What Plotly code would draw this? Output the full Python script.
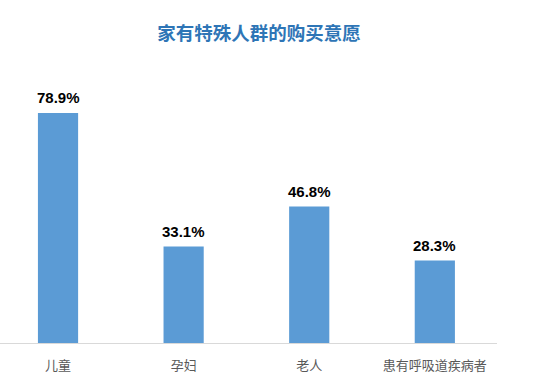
import plotly.graph_objects as go

categories = ["儿童", "孕妇", "老人", "患有呼吸道疾病者"]
values = [78.9, 33.1, 46.8, 28.3]
labels = ["78.9%", "33.1%", "46.8%", "28.3%"]
title = "家有特殊人群的购买意愿"

fig = go.Figure()
fig.add_trace(go.Bar(
    x=list(range(len(categories))), y=values,
    marker=dict(color="#5B9BD5", line=dict(width=0)),
    width=0.32, hoverinfo="skip",
))
for i, (v, t) in enumerate(zip(values, labels)):
    fig.add_annotation(x=i, y=v, text=t, showarrow=False, yanchor="bottom", yshift=5,
                       font=dict(family="Liberation Sans, Arial", size=15, color="#000000", weight="bold"))

fig.update_layout(
    width=550, height=389,
    margin=dict(l=0, r=53, t=60, b=46),
    paper_bgcolor="white", plot_bgcolor="white",
    showlegend=False,
    title=dict(text="<b>" + title + "</b>", x=0.471, xanchor="center", y=0.915, yanchor="middle",
               font=dict(family="Noto Sans CJK SC", size=18.5, color="#2E75B6")),
    xaxis=dict(range=[-0.462, 3.495], tickmode="array", tickvals=list(range(len(categories))),
               ticktext=categories, showgrid=False, zeroline=False, showline=True,
               linecolor="#D9D9D9", linewidth=1, ticks="", ticklabelstandoff=10,
               tickfont=dict(family="Noto Sans CJK SC", size=13, color="#595959")),
    yaxis=dict(range=[0, 97.1], visible=False, showgrid=False, zeroline=False),
)
fig.write_html("out.html")
